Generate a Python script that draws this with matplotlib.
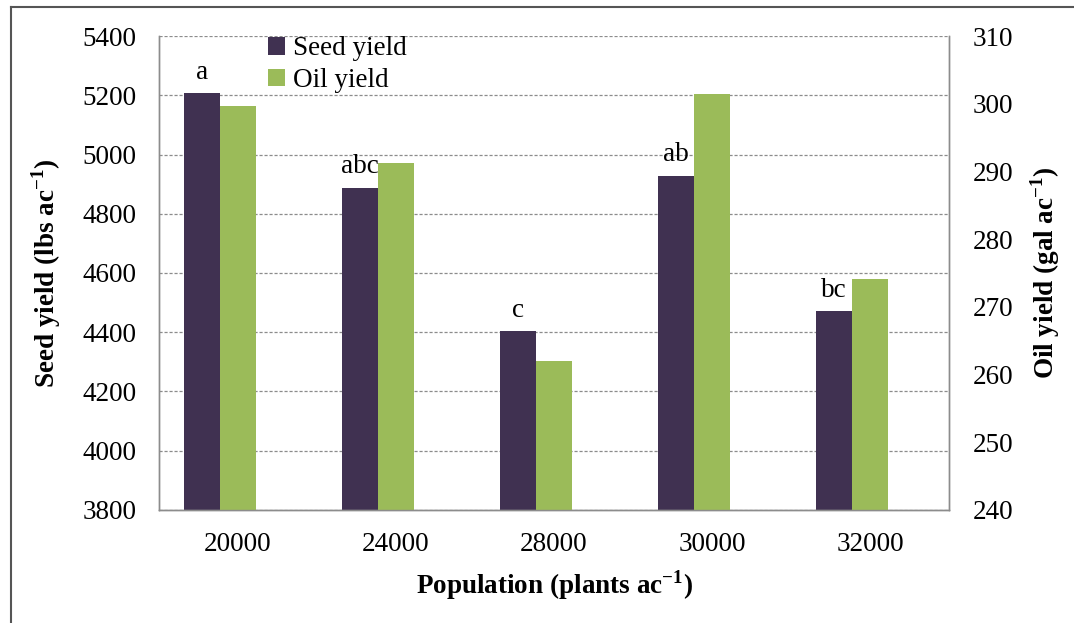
import matplotlib
matplotlib.use("Agg")
import matplotlib.pyplot as plt
import numpy as np
from matplotlib.lines import Line2D

populations = ["20000", "24000", "28000", "30000", "32000"]
seed_yield = [5207, 4888, 4403, 4928, 4471]
oil_yield = [299.7, 291.2, 262.0, 301.4, 274.1]
letters = ["a", "abc", "c", "ab", "bc"]

plt.rcParams['font.family'] = ['Liberation Serif', 'DejaVu Serif']
plt.rcParams['mathtext.fontset'] = 'custom'
plt.rcParams['mathtext.rm'] = 'Liberation Serif'
plt.rcParams['mathtext.bf'] = 'Liberation Serif:bold'
FS = 19.5

fig = plt.figure(figsize=(10.74, 6.23), dpi=100)
ax = fig.add_axes([0.1480, 0.1814, 0.7356, 0.7608])
ax2 = ax.twinx()

x = np.arange(len(populations))
w = 0.228
seed_c = "#403151"
oil_c = "#9BBB59"

ax.set_ylim(3800, 5400)
ax.set_yticks(np.arange(3800, 5401, 200))
ax.set_xlim(-0.5, len(populations) - 0.5)
ax.yaxis.grid(True, linestyle=(0, (2.5, 1.5)), color="#8c8c8c", linewidth=0.9)
ax.set_axisbelow(True)

b1 = ax.bar(x - w, seed_yield, width=w, color=seed_c, label="Seed yield", zorder=2)
b2 = ax2.bar(x, oil_yield, width=w, color=oil_c, label="Oil yield", zorder=2)
ax2.set_ylim(240, 310)
ax2.set_yticks(np.arange(240, 311, 10))

for xi, yv, lab in zip(x, seed_yield, letters):
    ax.annotate(lab, (xi - w, yv), xytext=(0, 6), textcoords="offset points",
                ha="center", va="bottom", fontsize=FS)

ax.set_xticks(x)
ax.set_xticklabels(populations, fontsize=FS)
ax.tick_params(axis="x", length=0, pad=16)
ax.tick_params(axis="y", length=0, pad=16, labelsize=FS)
ax2.tick_params(axis="y", length=0, pad=17, labelsize=FS)

for a in (ax, ax2):
    a.spines["top"].set_visible(False)
    for s in ("left", "right", "bottom"):
        a.spines[s].set_color("#8c8c8c")
        a.spines[s].set_linewidth(1.0)

ax.set_xlabel("Population (plants ac$^{\\mathbf{-1}}$)", fontsize=FS, fontweight="bold", labelpad=8)
ax.set_ylabel("Seed yield (lbs ac$^{\\mathbf{-1}}$)", fontsize=FS, fontweight="bold", labelpad=14)
ax2.set_ylabel("Oil yield (gal ac$^{\\mathbf{-1}}$)", fontsize=FS, fontweight="bold", labelpad=11)

handles = [b1, b2]
fig.legend(handles, ["Seed yield", "Oil yield"], loc="upper left",
           bbox_to_anchor=(0.232, 0.972), frameon=False, fontsize=FS,
           handlelength=0.62, handleheight=0.62, handletextpad=0.3, labelspacing=0.25,
           borderpad=0.2)

# figure border (left and top lines)
fig.add_artist(Line2D([11 / 1074, 11 / 1074], [0, 1 - 7 / 623], transform=fig.transFigure,
                      color="#555555", linewidth=1.5))
fig.add_artist(Line2D([11 / 1074, 1], [1 - 7 / 623, 1 - 7 / 623], transform=fig.transFigure,
                      color="#555555", linewidth=1.5))

fig.savefig("out.png", dpi=100)
